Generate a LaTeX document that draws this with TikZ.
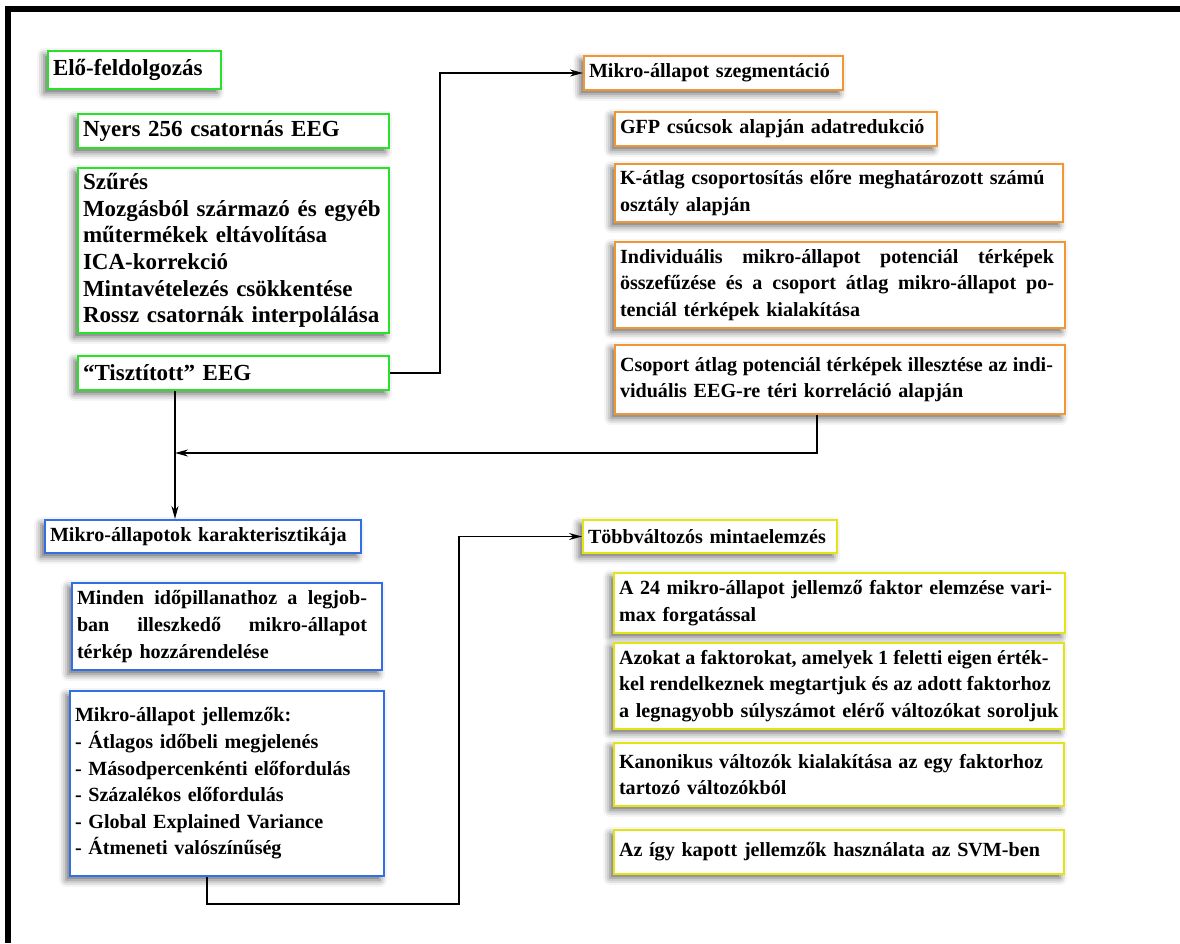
\documentclass[tikz,border=0pt]{standalone}
\usepackage{fontspec}
\setmainfont{Liberation Serif}
\usetikzlibrary{arrows.meta,calc,shadows.blur}
\definecolor{cgreen}{RGB}{40,225,40}
\definecolor{corange}{RGB}{240,150,50}
\definecolor{cblue}{RGB}{50,110,230}
\definecolor{cyellow}{RGB}{228,228,20}
\newcommand{\js}{\hspace{0.25em plus 1fill minus 0.08em}}
\newcommand{\jline}[2]{\makebox[#1pt][l]{#2}}
\tikzset{
  box/.style={draw=#1, line width=2pt, fill=white, anchor=north west,
    inner xsep=5pt, inner ysep=0pt, align=left,
    blur shadow={shadow xshift=-4pt, shadow yshift=-4pt, shadow blur radius=7pt, shadow opacity=60}},
  gtext/.style={font=\fontsize{23}{26.6}\selectfont\bfseries},
  ntext/.style={font=\fontsize{20.1}{26.6}\selectfont\bfseries},
  conn/.style={line width=1.6pt, -{Stealth[length=13pt,width=7pt]}},
  frame/.style={fill=black}
}
\begin{document}
\begin{tikzpicture}[x=1pt,y=-1pt]
\useasboundingbox (0,0) rectangle (1180,943);
\fill[frame] (5,6) rectangle (1180,12);
\fill[frame] (5,6) rectangle (11,943);

% green group
\node[box=cgreen, gtext, text width=163pt, minimum height=38pt] (pre) at (47,50) {Elő-feldolgozás};
\node[box=cgreen, gtext, text width=301pt, minimum height=34pt] (raw) at (77,113) {Nyers 256 csatornás EEG};
\node[box=cgreen, gtext, text width=301pt, minimum height=165pt] (filt) at (77,167) {Szűrés\\Mozgásból származó és egyéb\\műtermékek eltávolítása\\ICA-korrekció\\Mintavételezés csökkentése\\Rossz csatornák interpolálása};
\node[box=cgreen, gtext, text width=301pt, minimum height=34pt] (clean) at (77,355) {“Tisztított” EEG};

% orange group
\node[box=corange, ntext, text width=249pt, minimum height=34pt] (seg) at (583,55) {Mikro-állapot szegmentáció};
\node[box=corange, ntext, text width=312pt, minimum height=34pt] (gfp) at (614,111) {GFP csúcsok alapján adatredukció};
\node[box=corange, ntext, text width=438pt, minimum height=58pt] (kmeans) at (614,163) {K-átlag csoportosítás előre meghatározott számú\\osztály alapján};
\node[box=corange, ntext, text width=440pt, minimum height=86pt] (indiv) at (614,241) {\jline{434}{Individuális\js mikro-állapot\js potenciál\js térképek}\\\jline{434}{összefűzése\js és\js a\js csoport\js átlag\js mikro-állapot\js po-}\\tenciál térképek kialakítása};
\node[box=corange, ntext, text width=440pt, minimum height=69pt] (fit) at (614,344) {\jline{433}{Csoport\js átlag\js potenciál\js térképek\js illesztése\js az\js indi-}\\viduális EEG-re téri korreláció alapján};

% blue group
\node[box=cblue, ntext, text width=306pt, minimum height=33pt] (char) at (44,519) {Mikro-állapotok karakterisztikája};
\node[box=cblue, ntext, text width=300pt, minimum height=87pt] (assign) at (71,582) {\jline{290}{Minden\js időpillanathoz\js a\js legjob-}\\\jline{290}{ban\js illeszkedő\js mikro-állapot}\\térkép hozzárendelése};
\node[box=cblue, ntext, text width=304pt, minimum height=185pt] (feat) at (69,690) {Mikro-állapot jellemzők:\\- Átlagos időbeli megjelenés\\- Másodpercenkénti előfordulás\\- Százalékos előfordulás\\- Global Explained Variance\\- Átmeneti valószínűség};

% yellow group
\node[box=cyellow, ntext, text width=244pt, minimum height=33pt] (multi) at (582,519) {Többváltozós mintaelemzés};
\node[box=cyellow, ntext, text width=441pt, minimum height=60pt] (fa) at (613,572) {\jline{433}{A\js 24\js mikro-állapot\js jellemző\js faktor\js elemzése\js vari-}\\max forgatással};
\node[box=cyellow, ntext, text width=440pt, minimum height=86pt] (sel) at (613,642) {\jline{426}{Azokat\js a\js faktorokat,\js amelyek\js 1\js feletti\js eigen\js érték-}\\\jline{426}{kel\js rendelkeznek\js megtartjuk\js és\js az\js adott\js faktorhoz}\\a legnagyobb súlyszámot elérő változókat soroljuk};
\node[box=cyellow, ntext, text width=440pt, minimum height=63pt] (canon) at (613,742) {\jline{424}{Kanonikus\js változók\js kialakítása\js az\js egy\js faktorhoz}\\tartozó változókból};
\node[box=cyellow, ntext, text width=440pt, minimum height=44pt] (svm) at (613,829) {Az így kapott jellemzők használata az SVM-ben};

% connectors
\coordinate (p) at (440,372);
\coordinate (j) at (175,453);
\coordinate (q) at (817,453);
\coordinate (k) at (207,904);
\coordinate (m) at (459,904);
\draw[conn] (clean.east) -- (clean.east -| p) |- (seg.west);
\draw[conn] (fit.south -| q) -- (q) -- (j);
\draw[conn] (clean.south -| j) -- (char.north -| j);
\draw[conn] (feat.south -| k) -- (k) -- (m) |- (multi.west);
\end{tikzpicture}
\end{document}
